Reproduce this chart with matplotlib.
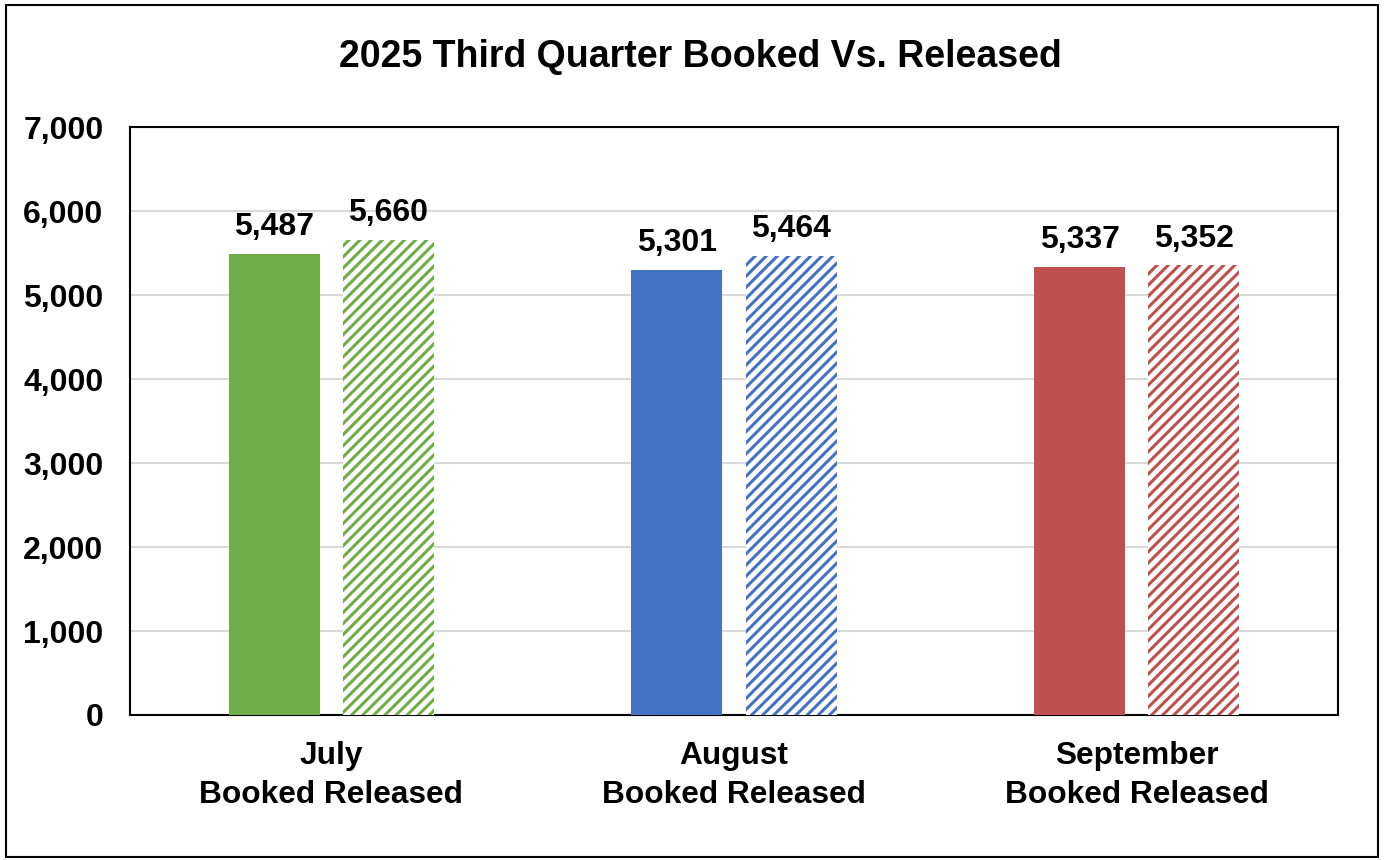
import matplotlib
matplotlib.use("Agg")
import matplotlib.pyplot as plt
from matplotlib.patches import Rectangle
import numpy as np

months = ["July", "August", "September"]
series_names = ["Booked", "Released"]
booked = [5487, 5301, 5337]
released = [5660, 5464, 5352]
colors = ["#70AD47", "#4472C4", "#C0504D"]
yticks = [0, 1000, 2000, 3000, 4000, 5000, 6000, 7000]
title = "2025 Third Quarter Booked Vs. Released"

plt.rcParams['font.family'] = ['Liberation Sans', 'DejaVu Sans']
plt.rcParams['font.weight'] = 'bold'
plt.rcParams['hatch.linewidth'] = 2.2

fig = plt.figure(figsize=(13.84, 8.6), dpi=100)
ax = fig.add_axes([130/1384, 1 - 715/860, (1338-130)/1384, (715-127)/860])

x = np.arange(len(months))
w = 0.226
off = 0.1416
for i in range(len(months)):
    ax.bar(x[i] - off, booked[i], width=w, color=colors[i], zorder=3)
    ax.bar(x[i] + off, released[i], width=w, color="white", edgecolor=colors[i],
           hatch="///", linewidth=0, zorder=3)
    for xv, v in [(x[i] - off, booked[i]), (x[i] + off, released[i])]:
        ax.annotate(f"{v:,}", (xv, v), xytext=(0, 8.5), textcoords="offset points",
                    ha="center", va="bottom", fontsize=23, fontweight="bold")

ax.set_xlim(-0.5, 2.5)
ax.set_ylim(0, 7000)
ax.set_yticks(yticks)
ax.set_yticklabels([f"{t:,}" for t in yticks], fontsize=23, fontweight="bold")
ax.set_xticks(x)
ax.set_xticklabels([f"{m}\n{series_names[0]} {series_names[1]}" for m in months],
                   fontsize=22.8, fontweight="bold", linespacing=1.4)
ax.tick_params(axis="both", length=0)
ax.tick_params(axis="y", pad=19)
ax.tick_params(axis="x", pad=18.5)
ax.grid(axis="y", color="#D9D9D9", linewidth=1.5, zorder=0)
for s in ax.spines.values():
    s.set_linewidth(1.5)
    s.set_color("black")

fig.text(700/1384, 1 - 57/860, title, ha="center", va="center", fontsize=27, fontweight="bold")
fig.patches.append(Rectangle((6/1384, 3/860), 1372/1384, 852/860, transform=fig.transFigure,
                             fill=False, edgecolor="black", linewidth=1.5))

fig.savefig("out.png", dpi=100)
